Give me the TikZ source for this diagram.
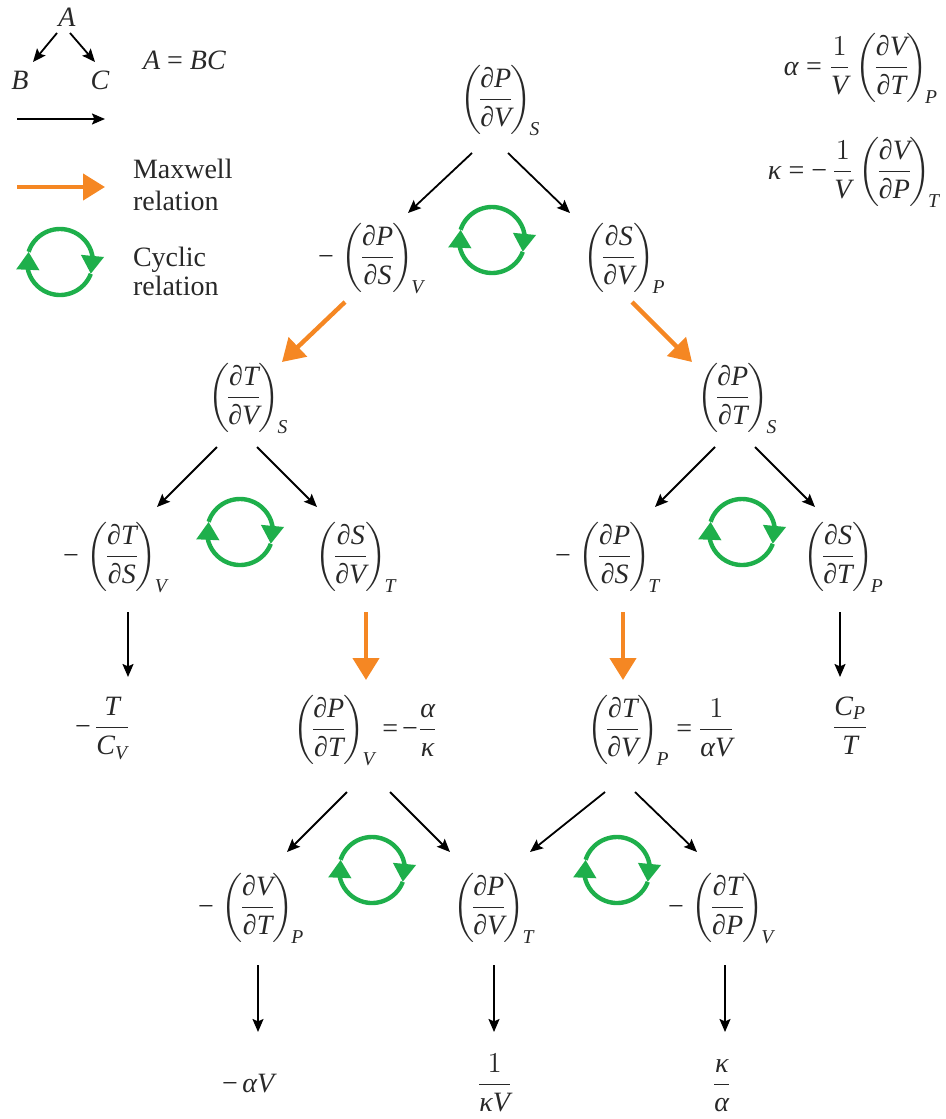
\documentclass[tikz,border=0pt]{standalone}
\usepackage{amsmath}
\usepackage{fontspec}
\setmainfont{Liberation Serif}
\usetikzlibrary{arrows.meta,bending,calc}
\definecolor{morange}{RGB}{245,135,35}
\definecolor{mgreen}{RGB}{30,175,75}
\definecolor{txt}{RGB}{40,40,40}
\newcommand\ti[1]{\textit{#1}}
\newcommand\pdv[3]{\left(\mkern-2mu\dfrac{\ti{∂#1}}{\ti{∂#2}}\mkern-2mu\right)_{\mkern-2mu\ti{#3}}}
\newcommand\mn{\text{−}\mkern2mu}
\tikzset{
 every node/.style={inner sep=0pt, outer sep=0pt, font=\fontsize{14}{17}\selectfont, text=txt},
 expr/.style={anchor=base west},
 blk/.style={draw=black, line width=0.9pt, -{Stealth[length=6.5pt,width=5.5pt,inset=1.2pt]}},
 mx/.style={draw=morange, line width=2.2pt, -{Triangle[length=11pt,width=13pt]}},
 cycarrow/.style={draw=mgreen, line width=2.2pt, -{Triangle[length=9pt,width=11pt,flex]}},
 cyc/.pic={
   \draw[cycarrow] (-162:33) arc[start angle=-162,end angle=21,radius=33];
   \draw[cycarrow] (21:33) arc[start angle=21,end angle=198,radius=33];
 }
}
\begin{document}
\begin{tikzpicture}[x=0.5pt,y=-0.5pt]
\useasboundingbox (0,0) rectangle (946,1119);
% legend
\node (lA) at (67,17) {\ti{A}};
\node (lB) at (20,80) {\ti{B}};
\node (lC) at (100,80) {\ti{C}};
\draw[blk] ($(lA)+(-10,16)$) -- ($(lB)+(13,-18)$);
\draw[blk] ($(lA)+(3,16)$) -- ($(lC)+(-5,-18)$);
\node[anchor=west] (lABC) at (143,60) {\ti{A} = \ti{BC}};
\coordinate (lk1) at (17,119); \coordinate (lk2) at (105,119);
\draw[blk] (lk1) -- (lk2);
\coordinate (lo1) at (17,187); \coordinate (lo2) at (105,187);
\draw[mx] (lo1) -- (lo2);
\node[anchor=base west] (tM1) at (133,178) {Maxwell};
\node[anchor=base west] (tM2) at (133,210) {relation};
\pic at (60,262) {cyc};
\node[anchor=base west] (tC1) at (133,266) {Cyclic};
\node[anchor=base west] (tC2) at (133,295) {relation};
% definitions
\node[anchor=base east] (defa) at (938,75) {$\displaystyle\text{\ti{α} = }\dfrac{1}{\ti{V}}\pdv{V}{T}{P}$};
\node[anchor=base east] (defk) at (940,179) {$\displaystyle\text{\ti{κ} = −\,}\dfrac{1}{\ti{V}}\pdv{V}{P}{T}$};
% tree nodes
\node[expr] (root) at (460,107) {$\displaystyle\pdv{P}{V}{S}$};
\node[expr] (n1a) at (318,265) {$\displaystyle\mn\pdv{P}{S}{V}$};
\node[expr] (n1b) at (583,265) {$\displaystyle\pdv{S}{V}{P}$};
\node[expr] (n2a) at (208,405) {$\displaystyle\pdv{T}{V}{S}$};
\node[expr] (n2b) at (697,405) {$\displaystyle\pdv{P}{T}{S}$};
\node[expr] (n3a) at (63,564) {$\displaystyle\mn\pdv{T}{S}{V}$};
\node[expr] (n3b) at (315,564) {$\displaystyle\pdv{S}{V}{T}$};
\node[expr] (n3c) at (555,564) {$\displaystyle\mn\pdv{P}{S}{T}$};
\node[expr] (n3d) at (803,564) {$\displaystyle\pdv{S}{T}{P}$};
\node[expr] (n4a) at (75,735) {$\displaystyle\mn\dfrac{\ti{T}}{\ti{C}_{\ti{V}}}$};
\node[expr] (n4b) at (293,737) {$\displaystyle\pdv{P}{T}{V}\text{\kern1pt=\kern2pt−}\dfrac{\ti{α}}{\ti{κ}}$};
\node[expr] (n4c) at (587,737) {$\displaystyle\pdv{T}{V}{P}\text{\kern1pt=\kern3pt}\dfrac{1}{\ti{αV}}$};
\node[expr] (n4d) at (832,735) {$\displaystyle\dfrac{\ti{C}_{\ti{P}}}{\ti{T}}$};
\node[expr] (n5a) at (198,915) {$\displaystyle\mn\pdv{V}{T}{P}$};
\node[expr] (n5b) at (453,915) {$\displaystyle\pdv{P}{V}{T}$};
\node[expr] (n5c) at (668,915) {$\displaystyle\mn\pdv{T}{P}{V}$};
\node[expr] (n6a) at (222,1092) {$\displaystyle\text{−\,\ti{αV}}$};
\node[expr] (n6b) at (477,1092) {$\displaystyle\dfrac{1}{\ti{κV}}$};
\node[expr] (n6c) at (712,1092) {$\displaystyle\dfrac{\ti{κ}}{\ti{α}}$};
% connectors
\draw[blk] ($(root.base west)+(12,46)$) -- ($(n1a.base west)+(90,-52)$);
\draw[blk] ($(root.base west)+(48,46)$) -- ($(n1b.base west)+(-13,-52)$);
\draw[mx] ($(n1a.base west)+(27,37)$) -- ($(n2a.base west)+(74,-43)$);
\draw[mx] ($(n1b.base west)+(49,37)$) -- ($(n2b.base west)+(-5,-43)$);
\draw[blk] ($(n2a.base west)+(9,42)$) -- ($(n3a.base west)+(94,-57)$);
\draw[blk] ($(n2a.base west)+(49,42)$) -- ($(n3b.base west)+(2,-57)$);
\draw[blk] ($(n2b.base west)+(18,42)$) -- ($(n3c.base west)+(100,-57)$);
\draw[blk] ($(n2b.base west)+(58,42)$) -- ($(n3d.base west)+(12,-57)$);
\draw[blk] ($(n3a.base west)+(65,48)$) -- ($(n4a.base west)+(53,-58)$);
\draw[mx] ($(n3b.base west)+(51,48)$) -- ($(n4b.base west)+(73,-57)$);
\draw[mx] ($(n3c.base west)+(68,48)$) -- ($(n4c.base west)+(36,-57)$);
\draw[blk] ($(n3d.base west)+(37,48)$) -- ($(n4d.base west)+(8,-58)$);
\draw[blk] ($(n4b.base west)+(54,55)$) -- ($(n5a.base west)+(89,-63)$);
\draw[blk] ($(n4b.base west)+(97,55)$) -- ($(n5b.base west)+(-3,-63)$);
\draw[blk] ($(n4c.base west)+(18,55)$) -- ($(n5b.base west)+(77,-63)$);
\draw[blk] ($(n4c.base west)+(48,55)$) -- ($(n5c.base west)+(29,-63)$);
\draw[blk] ($(n5a.base west)+(60,50)$) -- ($(n6a.base west)+(36,-60)$);
\draw[blk] ($(n5b.base west)+(41,50)$) -- ($(n6b.base west)+(17,-60)$);
\draw[blk] ($(n5c.base west)+(57,50)$) -- ($(n6c.base west)+(13,-60)$);
% cyclic relations
\pic at (492,240) {cyc};
\pic at (240,532) {cyc};
\pic at (742,532) {cyc};
\pic at (372,870) {cyc};
\pic at (617,870) {cyc};
\end{tikzpicture}
\end{document}
